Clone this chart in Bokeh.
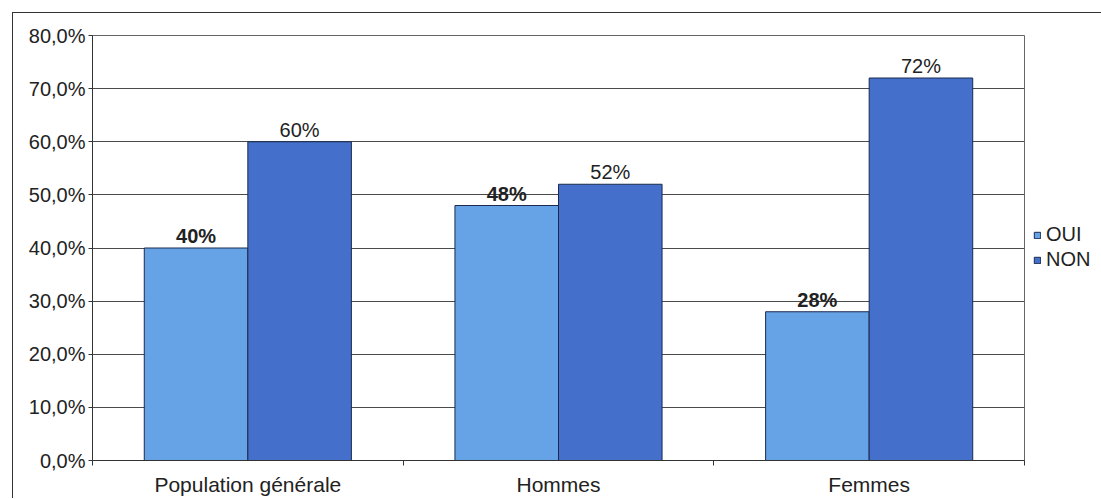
from bokeh.plotting import figure
from bokeh.models import ColumnDataSource, Range1d, FixedTicker, Legend, LegendItem
from bokeh.core.properties import value
from bokeh.embed import file_html
from bokeh.resources import INLINE

categories = ["Population générale", "Hommes", "Femmes"]
oui = [40, 48, 28]
non = [60, 52, 72]
series_names = ["OUI", "NON"]
y_ticks = [0, 10, 20, 30, 40, 50, 60, 70, 80]
y_tick_labels = ["0,0%", "10,0%", "20,0%", "30,0%", "40,0%", "50,0%", "60,0%", "70,0%", "80,0%"]

FONT = "Liberation Sans"
C_OUI = "#65a2e6"
C_NON = "#4470cb"
C_EDGE = "#1b2a4e"
C_GRID = "#4a4a4a"

idx = list(range(len(categories)))
bw = 1 / 3
src_oui = ColumnDataSource(dict(x=[i + 0.5 - bw / 2 for i in idx], top=oui,
                                lab=[f"{v}%" for v in oui]))
src_non = ColumnDataSource(dict(x=[i + 0.5 + bw / 2 for i in idx], top=non,
                                lab=[f"{v}%" for v in non]))

p = figure(frame_width=932, frame_height=425, output_backend="svg", toolbar_location=None,
           x_range=Range1d(0, len(categories)), y_range=Range1d(0, 80),
           min_border_left=79, min_border_right=60, min_border_top=22, min_border_bottom=31)
p.styles = {"margin-left": "12px", "margin-top": "12px",
            "border-left": "1px solid #333", "border-top": "1px solid #333"}
p.background_fill_color = "white"
p.border_fill_color = "white"
p.outline_line_color = "#666"
p.outline_line_width = 1

r_oui = p.vbar(x="x", top="top", width=bw, source=src_oui, fill_color=C_OUI,
               line_color=C_EDGE, line_width=1)
r_non = p.vbar(x="x", top="top", width=bw, source=src_non, fill_color=C_NON,
               line_color=C_EDGE, line_width=1)

p.text(x="x", y="top", text="lab", source=src_oui, text_align="center",
       text_baseline="bottom", y_offset=-1, text_font=value(FONT),
       text_font_size="20px", text_font_style="bold", text_color="#222")
p.text(x="x", y="top", text="lab", source=src_non, text_align="center",
       text_baseline="bottom", y_offset=-1, text_font=value(FONT),
       text_font_size="20px", text_color="#222")

# y axis
p.yaxis.ticker = FixedTicker(ticks=y_ticks)
p.yaxis.major_label_overrides = {t: l for t, l in zip(y_ticks, y_tick_labels)}
p.yaxis.major_label_text_font = FONT
p.yaxis.major_label_text_font_size = "20px"
p.yaxis.major_label_text_color = "#222"
p.yaxis.major_tick_in = 0
p.yaxis.major_tick_out = 4
p.yaxis.minor_tick_line_color = None
p.yaxis.axis_line_color = "#333"
p.yaxis.major_tick_line_color = "#333"
p.yaxis.major_label_standoff = 3

# x axis
centers = [i + 0.5 for i in idx]
p.xaxis.ticker = FixedTicker(ticks=centers, minor_ticks=list(range(len(categories) + 1)))
p.xaxis.major_label_overrides = {c: n for c, n in zip(centers, categories)}
p.xaxis.major_label_text_font = FONT
p.xaxis.major_label_text_font_size = "21px"
p.xaxis.major_label_text_color = "#222"
p.xaxis.major_tick_line_color = None
p.xaxis.minor_tick_in = 0
p.xaxis.minor_tick_out = 5
p.xaxis.minor_tick_line_color = "#333"
p.xaxis.axis_line_color = "#333"
p.xaxis.major_label_standoff = 6

p.xgrid.grid_line_color = None
p.ygrid.ticker = FixedTicker(ticks=y_ticks)
p.ygrid.grid_line_color = C_GRID
p.ygrid.grid_line_width = 1

legend = Legend(items=[LegendItem(label=series_names[0], renderers=[r_oui]),
                       LegendItem(label=series_names[1], renderers=[r_non])],
                location=(9, 189), orientation="vertical")
legend.glyph_width = 8
legend.glyph_height = 8
legend.label_text_font = FONT
legend.label_text_font_size = "20px"
legend.label_text_color = "#222"
legend.label_standoff = 5
legend.label_height = 20
legend.spacing = 2
legend.padding = 0
legend.margin = 0
legend.border_line_color = None
legend.background_fill_alpha = 0
p.add_layout(legend, "right")

open("out.html", "w").write(file_html(p, INLINE))
